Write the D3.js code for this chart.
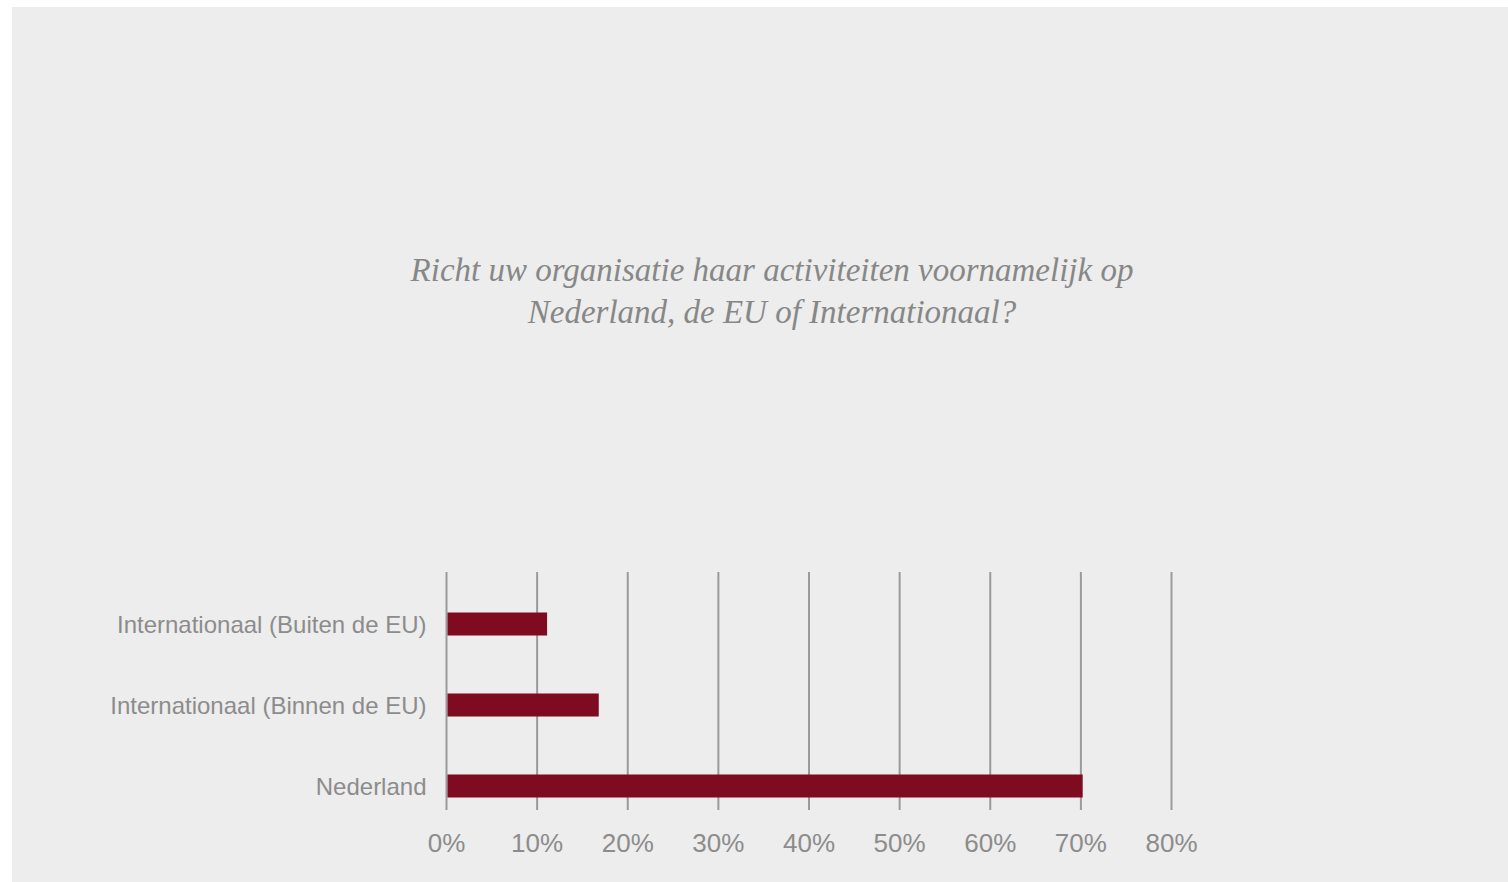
<!DOCTYPE html>
<html>
<head>
<meta charset="utf-8">
<script src="https://cdn.jsdelivr.net/npm/d3@7/dist/d3.min.js"></script>
<style>
  html, body { margin: 0; padding: 0; background: #ffffff; }
  svg { display: block; }
</style>
</head>
<body>
<svg id="chart" width="1508" height="882"></svg>
<script>
// Survey answers (share of organisations, %)
const categories = ["Internationaal (Buiten de EU)", "Internationaal (Binnen de EU)", "Nederland"];
const values = [11.1, 16.8, 70.2];
const tickValues = [0, 10, 20, 30, 40, 50, 60, 70, 80];
const titleLines = [
  "Richt uw organisatie haar activiteiten voornamelijk op",
  "Nederland, de EU of Internationaal?"
];

const svg = d3.select("#chart");

// Panel background
svg.append("rect")
  .attr("x", 12).attr("y", 7)
  .attr("width", 1508 - 12).attr("height", 882 - 7)
  .attr("fill", "#ecedec");

// Title
const title = svg.append("text")
  .attr("x", 772)
  .attr("y", 281)
  .attr("text-anchor", "middle")
  .attr("fill", "#878787")
  .style("font-family", "'Liberation Serif', 'DejaVu Serif', serif")
  .style("font-style", "italic")
  .style("font-size", "33px");
titleLines.forEach((t, i) => {
  title.append("tspan").attr("x", 772).attr("dy", i === 0 ? 0 : 42).text(t);
});

// Plot area
const plot = { left: 446.5, right: 1171.5, top: 572, bottom: 810 };

const x = d3.scaleLinear()
  .domain([0, 80])
  .range([plot.left, plot.right]);

const y = d3.scaleBand()
  .domain(categories)
  .range([plot.top, plot.top + 266])
  .paddingInner(0.716)
  .paddingOuter(0.5);

// Vertical gridlines
svg.append("g")
  .selectAll("line")
  .data(tickValues)
  .join("line")
  .attr("x1", d => x(d)).attr("x2", d => x(d))
  .attr("y1", plot.top).attr("y2", plot.bottom)
  .attr("stroke", "#9a9a9a")
  .attr("stroke-width", 2);

// Bars
svg.append("g")
  .selectAll("rect")
  .data(categories)
  .join("rect")
  .attr("x", x(0) + 1)
  .attr("y", d => y(d))
  .attr("width", (d, i) => x(values[i]) - x(0) - 1)
  .attr("height", y.bandwidth())
  .attr("fill", "#7e0b1f");

// Category labels
svg.append("g")
  .selectAll("text")
  .data(categories)
  .join("text")
  .attr("x", plot.left - 20)
  .attr("y", d => y(d) + y.bandwidth() / 2)
  .attr("dy", "0.36em")
  .attr("text-anchor", "end")
  .attr("fill", "#8c8c8c")
  .style("font-family", "'Liberation Sans', Arial, sans-serif")
  .style("font-size", "24px")
  .text(d => d);

// X axis tick labels
svg.append("g")
  .selectAll("text")
  .data(tickValues)
  .join("text")
  .attr("x", d => x(d))
  .attr("y", 852)
  .attr("text-anchor", "middle")
  .attr("fill", "#8c8c8c")
  .style("font-family", "'Liberation Sans', Arial, sans-serif")
  .style("font-size", "26px")
  .text(d => d + "%");
</script>
</body>
</html>
